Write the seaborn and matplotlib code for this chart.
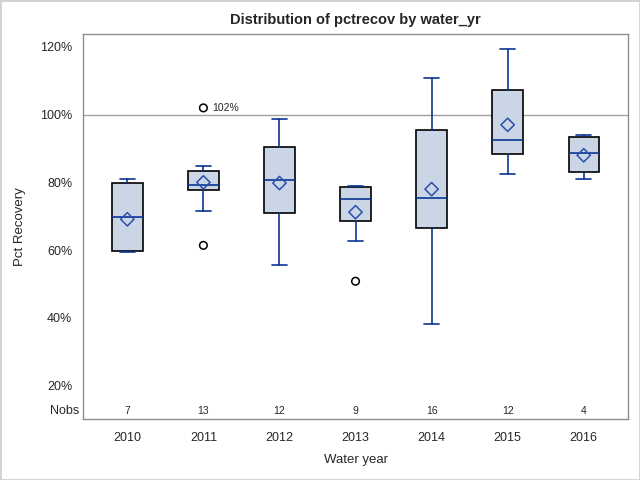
import matplotlib
matplotlib.use("Agg")
import matplotlib.pyplot as plt
import matplotlib.transforms as mtransforms
from matplotlib.patches import Rectangle
import numpy as np
import pandas as pd
import seaborn as sns

# Box statistics per water year (percent recovery)
years = ["2010", "2011", "2012", "2013", "2014", "2015", "2016"]
nobs = [7, 13, 12, 9, 16, 12, 4]
whisker_low = [59.4, 71.5, 55.5, 62.7, 38.1, 82.5, 81.0]
q1 = [59.7, 77.7, 70.9, 68.6, 66.5, 88.4, 83.0]
median = [69.7, 79.2, 80.8, 75.1, 75.4, 92.5, 88.7]
q3 = [79.8, 83.3, 90.4, 78.6, 95.5, 107.3, 93.4]
whisker_high = [81.0, 84.8, 98.6, 79.0, 110.9, 119.4, 94.0]
means = [69.1, 80.0, 79.8, 71.2, 78.0, 97.0, 88.0]

# Outliers
outlier_year = ["2011", "2011", "2013"]
outlier_value = [61.4, 102.0, 50.8]
outlier_label = ["", "102%", ""]

BOX_FILL = "#CAD5E5"
BLUE = "#0B3594"
MEAN_BLUE = "#2A4FAA"
GRID_GREY = "#8E8E8E"

sns.set_style("white")
plt.rcParams["font.family"] = ["Liberation Sans", "DejaVu Sans"]

fig = plt.figure(figsize=(6.4, 4.8), dpi=100)
ax = fig.add_axes([0.130, 0.127, 0.851, 0.802])

pos = np.arange(len(years))
stats = []
for i in range(len(years)):
    stats.append({"med": median[i], "q1": q1[i], "q3": q3[i],
                  "whislo": whisker_low[i], "whishi": whisker_high[i],
                  "fliers": []})

ax.bxp(stats, positions=pos, widths=0.4, capwidths=0.2, patch_artist=True,
       showfliers=False,
       boxprops=dict(facecolor=BOX_FILL, edgecolor="black", linewidth=1.2),
       medianprops=dict(color=BLUE, linewidth=1.2),
       whiskerprops=dict(color=BLUE, linewidth=1.2),
       capprops=dict(color=BLUE, linewidth=1.2), zorder=3)

# means as open diamonds
mean_df = pd.DataFrame({"pos": pos, "mean": means})
sns.scatterplot(data=mean_df, x="pos", y="mean", marker="D", s=46,
                facecolor="none", edgecolor=MEAN_BLUE, linewidth=1.1,
                ax=ax, zorder=5)

# outliers as open circles
out_df = pd.DataFrame({"pos": [years.index(y) for y in outlier_year],
                       "value": outlier_value, "label": outlier_label})
sns.scatterplot(data=out_df, x="pos", y="value", marker="o", s=30,
                facecolor="none", edgecolor="black", linewidth=1.1,
                ax=ax, zorder=5)
for _, r in out_df.iterrows():
    if r["label"]:
        ax.annotate(r["label"], (r["pos"], r["value"]), xytext=(6, 0),
                    textcoords="offset points", va="center", ha="left",
                    fontsize=7.5)

# reference line at 100%
ax.axhline(100, color="#A0A0A0", linewidth=1, zorder=1)

ax.set_xlim(-0.58, 6.58)
ax.set_ylim(10.1, 123.8)
ax.set_xticks(pos)
ax.set_xticklabels(years)
ax.set_yticks([20, 40, 60, 80, 100, 120])
ax.set_yticklabels([f"{v}%" for v in [20, 40, 60, 80, 100, 120]])
ax.tick_params(axis="both", direction="out", length=4.3, width=0.8,
               color=GRID_GREY, labelsize=9, pad=3.5)
ax.tick_params(axis="x", pad=5)
for sp in ax.spines.values():
    sp.set_color(GRID_GREY)
    sp.set_linewidth(1.0)

# Nobs row
trans = mtransforms.blended_transform_factory(ax.transData, ax.transAxes)
for i, n in enumerate(nobs):
    ax.text(pos[i], 0.022, str(n), transform=trans, ha="center",
            va="center", fontsize=7.5)
ax.text(-0.007, 0.022, "Nobs", transform=ax.transAxes, ha="right",
        va="center", fontsize=9)

ax.set_xlabel("Water year", fontsize=9.5, labelpad=7)
ax.set_ylabel("Pct Recovery", fontsize=9.5, labelpad=10)
ax.set_title("Distribution of pctrecov by water_yr", fontsize=10.5,
             fontweight="bold", pad=7)

fig.patches.append(Rectangle((0, 0), 1, 1, transform=fig.transFigure,
                             fill=False, edgecolor="#D0D0D0", linewidth=2))

fig.savefig("out.png", dpi=100)
